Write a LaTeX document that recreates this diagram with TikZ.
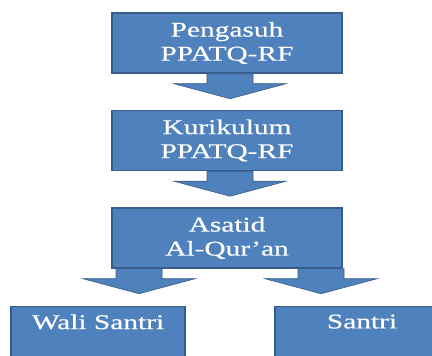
\documentclass[tikz,border=0pt]{standalone}
\usepackage{fontspec}
\newfontfamily\boxfont[FakeBold=0.4]{Liberation Serif}
\usetikzlibrary{positioning}
\definecolor{boxblue}{RGB}{79,129,189}
\definecolor{boxline}{RGB}{56,93,138}
\newcommand\wide[1]{\scalebox{1.4}[1]{#1}}
\tikzset{
	node distance=36pt,
	box/.style = {draw=boxline, line width=1.5pt, fill=boxblue, text=white,
		minimum width=230pt, minimum height=60pt, align=center,
		font=\boxfont\fontsize{21}{24}\selectfont},
	leafbox/.style = {box, minimum width=174pt, anchor=north,
		inner ysep=8pt, text depth=50pt},
	downarr/.pic = {
		\path[draw=boxline, line width=0.6pt, fill=boxblue]
			(-23,0) -- (23,0) -- (23,-10) -- (56,-10) -- (0,-25)
			-- (-56,-10) -- (-23,-10) -- cycle;
	}
}

\begin{document}
\begin{tikzpicture}[x=1pt, y=1pt]
	\clip (0,0) rectangle (432,356);
	\node[box] (peng) at (227,313) {\wide{Pengasuh}\\\wide{PPATQ-RF}};
	\node[box] (kur) [below=of peng] {\wide{Kurikulum}\\\wide{PPATQ-RF}};
	\node[box] (asatid) [below=of kur] {\wide{Asatid}\\\wide{Al-Qur’an}};
	\node[leafbox] (wali) [below=37pt of asatid, xshift=-129pt] {\wide{Wali Santri}};
	\node[leafbox] (santri) [below=37pt of asatid, xshift=135pt] {\wide{Santri}};
	% block arrows
	\pic[xshift=3pt] at (peng.south) {downarr};
	\pic[xshift=3pt] at (kur.south) {downarr};
	\pic[xshift=-88pt] at (asatid.south) {downarr};
	\pic[xshift=94pt] at (asatid.south) {downarr};
\end{tikzpicture}
\end{document}
